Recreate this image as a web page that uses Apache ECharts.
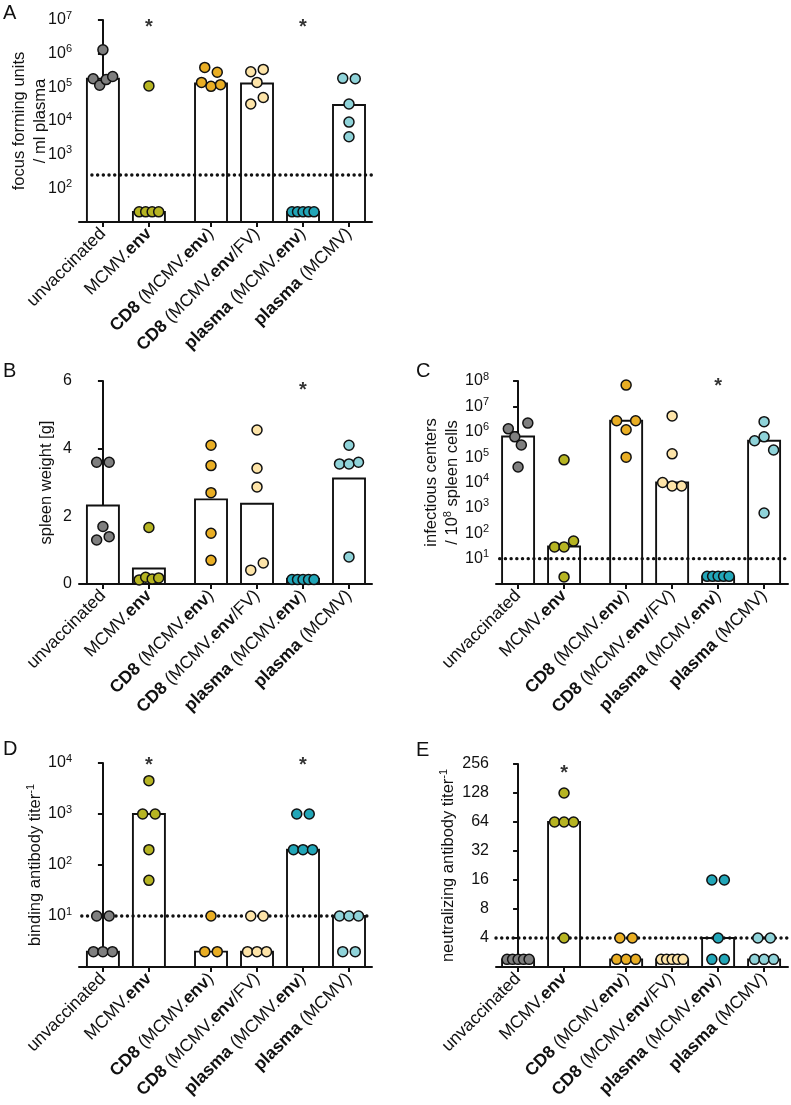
<!DOCTYPE html>
<html><head><meta charset="utf-8">
<script src="https://cdn.jsdelivr.net/npm/echarts@6/dist/echarts.min.js"></script>
<style>html,body{margin:0;padding:0;background:#fff}#c{width:791px;height:1105px}</style>
</head><body><div id="c"></div>
<script>
// ---------------- data ----------------
const categories = [
  'unvaccinated',
  'MCMV.{b|env}',
  '{b|CD8} (MCMV.{b|env})',
  '{b|CD8} (MCMV.{b|env}/FV)',
  '{b|plasma} (MCMV.{b|env})',
  '{b|plasma} (MCMV)'
];
const groupColors = ['#7f7f7f', '#b6b422', '#e9ae24', '#fde4a8', '#22a6b8', '#8fd3d9'];

// A: focus forming units / ml plasma
const ffuPoints = [
  [1.3e6, 1.8e5, 1.15e5, 1.7e5, 2.1e5],
  [1.1e5, 20, 20, 20, 20],
  [3.9e5, 2.8e5, 1.4e5, 1.07e5, 1.2e5],
  [2.9e5, 3.4e5, 1.4e5, 3.2e4, 5e4],
  [20, 20, 20, 20, 20],
  [1.85e5, 1.8e5, 3.2e4, 9.3e3, 3.4e3]
];
const ffuBars = [1.8e5, 20, 1.3e5, 1.3e5, 20, 3e4];
const ffuLimit = 250;
const ffuStars = [1, 4];

// B: spleen weight [g]
const spleenPoints = [
  [3.6, 3.6, 1.7, 1.3, 1.4],
  [1.67, 0.12, 0.2, 0.15, 0.18],
  [4.1, 3.5, 2.7, 1.5, 0.7],
  [4.55, 3.42, 2.87, 0.41, 0.62],
  [0.13, 0.13, 0.13, 0.13, 0.13],
  [4.1, 3.55, 3.55, 3.6, 0.8]
];
const spleenBars = [2.32, 0.46, 2.5, 2.37, 0.15, 3.12];
const spleenStars = [4];

// C: infectious centers / 10^8 spleen cells
const icPoints = [
  [1.3e6, 6.3e5, 3e5, 2.2e6, 4.1e4],
  [7.8e4, 29, 29, 49, 1.9],
  [6.9e7, 2.7e6, 1.2e6, 2.7e6, 1e5],
  [4.2e6, 1.35e5, 1e4, 7.3e3, 7.3e3],
  [2, 2, 2, 2, 2],
  [2.5e6, 4.4e5, 6.3e5, 1.9e5, 630]
];
const icBars = [6.5e5, 30, 2.7e6, 1e4, 2, 4.4e5];
const icLimit = 10;
const icStars = [4];

// D: binding antibody titer^-1
const bindPoints = [
  [10, 10, 2, 2, 2],
  [4500, 1000, 1000, 200, 50],
  [10, 2, 2],
  [10, 10, 2, 2, 2],
  [1000, 1000, 200, 200, 200],
  [10, 10, 10, 2, 2]
];
const bindBars = [2, 1000, 2, 2, 200, 10];
const bindLimit = 10;
const bindStars = [1, 4];

// E: neutralizing antibody titer^-1
const neutPoints = [
  [2.4, 2.4, 2.4, 2.4, 2.4],
  [128, 64, 64, 64, 4],
  [4, 4, 2.4, 2.4, 2.4],
  [2.4, 2.4, 2.4, 2.4, 2.4],
  [16, 16, 4, 2.4, 2.4],
  [4, 4, 2.4, 2.4, 2.4]
];
const neutBars = [2.4, 64, 2.4, 2.4, 4, 2.4];
const neutLimit = 4;
const neutStars = [1];

// ---------------- layout / style ----------------
const FONT = '"Liberation Sans", Arial, Helvetica, sans-serif';
const INK = '#111';
const GROUP_POS = [0, 1, 2.35, 3.35, 4.35, 5.35];
const DOT = 10;
const SPACING = {1: 0, 2: 12.5, 3: 9.5, 4: 6.5, 5: 5.5};

const panels = [
  {letter: 'A', lx: 3, ly: 3, grid: {left: 79, top: 20, width: 293, height: 202}, xMin: -0.52, xMax: 5.85,
   yType: 'log', base: 10, yMin: 10, yMax: 1e7, points: ffuPoints, bars: ffuBars,
   limit: ffuLimit, limitStart: -0.24, stars: ffuStars, starDy: 7,
   name: 'focus forming units\n/ ml plasma', nameGap: 28},
  {letter: 'B', lx: 3, ly: 361, grid: {left: 79, top: 381, width: 293, height: 203}, xMin: -0.52, xMax: 5.85,
   yType: 'value', yMin: 0, yMax: 6, points: spleenPoints, bars: spleenBars,
   limit: null, stars: spleenStars, starDy: 9,
   name: 'spleen weight [g]', nameGap: 22},
  {letter: 'C', lx: 416, ly: 361, grid: {left: 496, top: 381, width: 292, height: 203}, xMin: -0.48, xMax: 5.87,
   yType: 'log', base: 10, yMin: 1, yMax: 1e8, points: icPoints, bars: icBars,
   limit: icLimit, limitStart: -0.4, stars: icStars, starDy: 5,
   name: 'infectious centers\n/ 10{s|8} spleen cells', nameGap: 33},
  {letter: 'D', lx: 3, ly: 739, grid: {left: 79, top: 763, width: 293, height: 204}, xMin: -0.52, xMax: 5.85,
   yType: 'log', base: 10, yMin: 1, yMax: 1e4, points: bindPoints, bars: bindBars,
   limit: bindLimit, limitStart: -0.46, stars: bindStars, starDy: 2,
   name: 'binding antibody titer{s|-1}', nameGap: 33},
  {letter: 'E', lx: 416, ly: 740, grid: {left: 496, top: 764, width: 292, height: 203}, xMin: -0.48, xMax: 5.87,
   yType: 'log', base: 2, yMin: 2, yMax: 256, points: neutPoints, bars: neutBars,
   limit: neutLimit, limitStart: -0.48, stars: neutStars, starDy: 9,
   name: 'neutralizing antibody titer{s|-1}', nameGap: 37}
];

function toPx(p, v) {
  if (p.yType === 'log') {
    return (Math.log(v) - Math.log(p.yMin)) / (Math.log(p.yMax) - Math.log(p.yMin)) * p.grid.height;
  }
  return (v - p.yMin) / (p.yMax - p.yMin) * p.grid.height;
}

// cluster points with near-equal pixel height, spread them horizontally (centered rows)
function jitter(p, values) {
  const idx = values.map((v, i) => i).sort((a, b) => toPx(p, values[b]) - toPx(p, values[a]));
  const clusters = [];
  let cur = [idx[0]];
  for (let k = 1; k < idx.length; k++) {
    if (Math.abs(toPx(p, values[idx[k]]) - toPx(p, values[idx[k - 1]])) < 9.5) cur.push(idx[k]);
    else { clusters.push(cur); cur = [idx[k]]; }
  }
  clusters.push(cur);
  const off = new Array(values.length).fill(0);
  clusters.forEach(c => {
    c.sort((a, b) => a - b);
    const n = c.length;
    const s = SPACING[n] != null ? SPACING[n] : 22 / (n - 1);
    c.forEach((id, j) => { off[id] = (j - (n - 1) / 2) * s; });
  });
  return off;
}

const supRich = {
  s: {fontSize: 11, fontFamily: FONT, color: INK, verticalAlign: 'top', lineHeight: 20},
  n: {fontSize: 16, fontFamily: FONT, color: INK, verticalAlign: 'middle', lineHeight: 20}
};

const grids = [], xAxes = [], yAxes = [], series = [], graphics = [];

panels.forEach((p, i) => {
  grids.push(Object.assign({containLabel: false}, p.grid));
  xAxes.push({
    type: 'value', gridIndex: i, min: p.xMin, max: p.xMax,
    axisLine: {onZero: false, lineStyle: {color: INK, width: 2}},
    axisTick: {show: true, length: 5, lineStyle: {color: INK, width: 2}, customValues: GROUP_POS},
    axisLabel: {
      customValues: GROUP_POS, rotate: 45, margin: 9, fontSize: 17.5, fontFamily: FONT, color: INK,
      formatter: v => {
        let k = 0, best = 1e9;
        GROUP_POS.forEach((g, j) => { if (Math.abs(g - v) < best) { best = Math.abs(g - v); k = j; } });
        return categories[k];
      },
      rich: {b: {fontWeight: 'bold', fontSize: 17.5, fontFamily: FONT, color: INK}}
    },
    splitLine: {show: false}
  });
  const yAxis = {
    type: p.yType, gridIndex: i, min: p.yMin, max: p.yMax,
    axisLine: {show: true, lineStyle: {color: INK, width: 2}},
    axisTick: {show: true, length: 5, lineStyle: {color: INK, width: 2}},
    axisLabel: {
      margin: 7, fontSize: 16, fontFamily: FONT, color: INK,
      showMinLabel: p.yType !== 'log',
      formatter: v => {
        if (p.yType === 'log' && p.base === 10) {
          return '{n|10}{s|' + Math.round(Math.log10(v)) + '}';
        }
        return String(Math.round(v));
      },
      rich: supRich
    },
    splitLine: {show: false},
    minorTick: {show: false},
    name: p.name, nameLocation: 'middle', nameRotate: 90, nameGap: p.nameGap, nameMoveOverlap: false,
    nameTextStyle: {
      fontSize: 16.5, fontFamily: FONT, color: INK, lineHeight: 21,
      rich: {s: {fontSize: 11, fontFamily: FONT, color: INK, verticalAlign: 'top', lineHeight: 21}}
    }
  };
  if (p.yType === 'log') yAxis.logBase = p.base;
  else yAxis.interval = 2;
  yAxes.push(yAxis);

  // bars (white boxes with black outline)
  series.push({
    type: 'custom', xAxisIndex: i, yAxisIndex: i, z: 1,
    data: p.bars.map((v, g) => [GROUP_POS[g], v]),
    renderItem: (params, api) => {
      const top = api.coord([api.value(0), api.value(1)]);
      const base = api.coord([api.value(0), p.yMin]);
      return {type: 'rect', shape: {x: top[0] - 16, y: top[1], width: 32, height: base[1] - top[1]},
              style: {fill: '#fff', stroke: INK, lineWidth: 1.9}};
    }
  });

  // detection-limit dotted line
  if (p.limit != null) {
    series.push({
      type: 'line', xAxisIndex: i, yAxisIndex: i, z: 3, symbol: 'none', silent: true,
      data: [[p.limitStart, p.limit], [p.xMax, p.limit]],
      lineStyle: {color: INK, width: 3.4, type: [0.1, 5.6], cap: 'round'}
    });
  }

  // individual animals
  const pts = [];
  p.points.forEach((vals, g) => {
    const off = jitter(p, vals);
    vals.forEach((v, k) => {
      pts.push({value: [GROUP_POS[g], v], symbolOffset: [off[k], 0],
                itemStyle: {color: groupColors[g]}});
    });
  });
  series.push({
    type: 'scatter', xAxisIndex: i, yAxisIndex: i, z: 5, symbol: 'circle', symbolSize: DOT,
    itemStyle: {borderColor: INK, borderWidth: 1.5, opacity: 1},
    data: pts
  });

  // significance stars
  series.push({
    type: 'scatter', xAxisIndex: i, yAxisIndex: i, z: 6, symbolSize: 0, silent: true,
    data: p.stars.map(g => [GROUP_POS[g], p.yMax]),
    label: {show: true, position: 'inside', formatter: '*', fontSize: 20, fontWeight: 'bold',
            fontFamily: FONT, color: '#000', offset: [0, p.starDy]}
  });

  graphics.push({type: 'text', left: p.lx, top: p.ly,
    style: {text: p.letter, fontSize: 20, fontFamily: FONT, fill: INK}});
});

const chart = echarts.init(document.getElementById('c'), null, {renderer: 'canvas'});
chart.setOption({
  animation: false,
  backgroundColor: '#fff',
  grid: grids, xAxis: xAxes, yAxis: yAxes, series: series, graphic: graphics
});
</script>
</body></html>
